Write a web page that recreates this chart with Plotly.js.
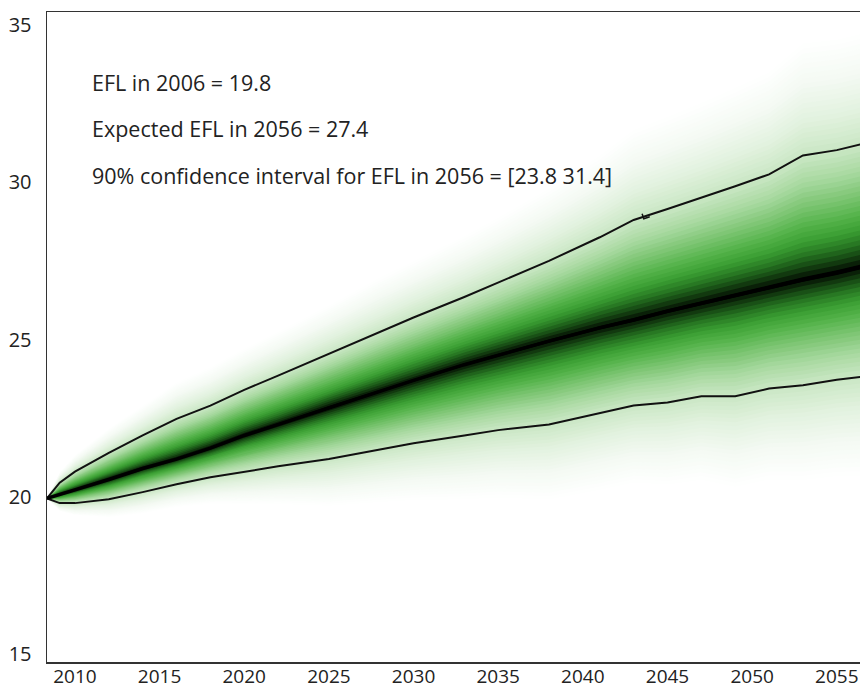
<!DOCTYPE html>
<html>
<head>
<meta charset="utf-8">
<script src="https://cdn.plot.ly/plotly-3.0.1.min.js"></script>
<style>html,body{margin:0;padding:0;background:#fff;}#chart{width:860px;height:690px;}</style>
</head>
<body>
<div id="chart"></div>
<script>
// Years (x) and read-off series values
const years = [2008.35, 2009.1, 2010, 2012, 2014, 2016, 2018, 2020, 2022, 2025, 2028, 2030, 2033, 2035, 2038, 2041, 2043, 2045, 2047, 2049, 2051, 2053, 2055, 2056.4];
const median = [19.95, 20.08, 20.22, 20.55, 20.9, 21.2, 21.55, 21.95, 22.3, 22.85, 23.35, 23.7, 24.2, 24.5, 24.95, 25.37, 25.62, 25.9, 26.15, 26.4, 26.65, 26.9, 27.12, 27.3];
const upper95 = [19.95, 20.45, 20.8, 21.4, 21.95, 22.48, 22.9, 23.4, 23.85, 24.55, 25.25, 25.7, 26.35, 26.8, 27.5, 28.25, 28.8, 29.15, 29.5, 29.87, 30.25, 30.85, 31.02, 31.2];
const lower5 = [19.95, 19.8, 19.8, 19.92, 20.15, 20.4, 20.62, 20.8, 20.97, 21.2, 21.5, 21.7, 21.95, 22.12, 22.3, 22.66, 22.9, 23.0, 23.2, 23.2, 23.44, 23.55, 23.72, 23.81];
const hookX = [2043.5, 2043.6, 2043.95];
const hookY = [29.0, 28.84, 28.9];
const xTicks = [2010, 2015, 2020, 2025, 2030, 2035, 2040, 2045, 2050, 2055];
const yTicks = [15, 20, 25, 30, 35];
const notes = ["EFL in 2006 = 19.8", "Expected EFL in 2056 = 27.4", "90% confidence interval for EFL in 2056 = [23.8 31.4]"];

// colour ramp for the density shading (fraction of the 90% half-width -> colour)
const ramp = [
  [1.9, [254,255,254]], [1.6, [244,250,243]], [1.3, [226,242,223]], [1.0, [200,230,194]],
  [0.8, [168,217,160]], [0.6, [122,196,112]], [0.45, [84,179,74]], [0.32, [58,158,50]],
  [0.22, [40,120,35]], [0.14, [25,80,22]], [0.07, [12,40,10]], [0.02, [0,0,0]]
];
function colourAt(f) {
  for (let i = 0; i < ramp.length - 1; i++) {
    const a = ramp[i], b = ramp[i+1];
    if (f <= a[0] && f >= b[0]) {
      const t = (a[0] - f) / (a[0] - b[0]);
      const c = a[1].map((v, k) => Math.round(v + t * (b[1][k] - v)));
      return 'rgb(' + c.join(',') + ')';
    }
  }
  return f > ramp[0][0] ? 'rgb(255,255,255)' : 'rgb(0,0,0)';
}

const traces = [];
const revYears = years.slice().reverse();
for (let f = 1.9; f > 0.015; f -= 0.04) {
  const up = median.map((m, i) => m + f * (upper95[i] - m));
  const lo = median.map((m, i) => m - f * (m - lower5[i]));
  traces.push({
    x: years.concat(revYears), y: up.concat(lo.slice().reverse()),
    type: 'scatter', mode: 'lines', fill: 'toself', fillcolor: colourAt(f),
    line: {width: 0}, hoverinfo: 'skip', showlegend: false
  });
}
traces.push({x: years, y: upper95, type: 'scatter', mode: 'lines', line: {color: '#111', width: 2}, showlegend: false});
traces.push({x: hookX, y: hookY, type: 'scatter', mode: 'lines', line: {color: '#111', width: 1.5}, showlegend: false});
traces.push({x: years, y: lower5, type: 'scatter', mode: 'lines', line: {color: '#111', width: 2}, showlegend: false});
traces.push({x: years, y: median, type: 'scatter', mode: 'lines', line: {color: '#000', width: 3.5}, showlegend: false});

const fontFam = 'Open Sans, DejaVu Sans, sans-serif';
const rowY = [0.892, 0.8215, 0.749];
const annotations = notes.map((t, i) => ({
  text: t, xref: 'paper', yref: 'paper', x: 0.053, y: rowY[i],
  xanchor: 'left', yanchor: 'middle', showarrow: false,
  font: {family: fontFam, size: 21.5, color: '#222'}
}));

const layout = {
  width: 860, height: 690,
  margin: {l: 47, r: 0, t: 12, b: 28, pad: 0},
  paper_bgcolor: '#fff', plot_bgcolor: '#fff',
  showlegend: false,
  xaxis: {
    range: [2008.35, 2056.37], tickvals: xTicks, ticktext: xTicks.map(String),
    showgrid: false, zeroline: false, showline: true, linecolor: '#333', linewidth: 1.5,
    mirror: true, ticks: '', ticklabelstandoff: -3, tickfont: {family: fontFam, size: 19, color: '#222'}
  },
  yaxis: {
    range: [14.75, 35.41], tickvals: yTicks, ticktext: yTicks.map(String),
    showgrid: false, zeroline: false, showline: true, linecolor: '#333', linewidth: 1.5,
    ticks: '', ticklabelstandoff: 10, tickfont: {family: fontFam, size: 20, color: '#222'}
  },
  annotations: annotations
};

Plotly.newPlot('chart', traces, layout, {staticPlot: true, displayModeBar: false});
</script>
</body>
</html>
